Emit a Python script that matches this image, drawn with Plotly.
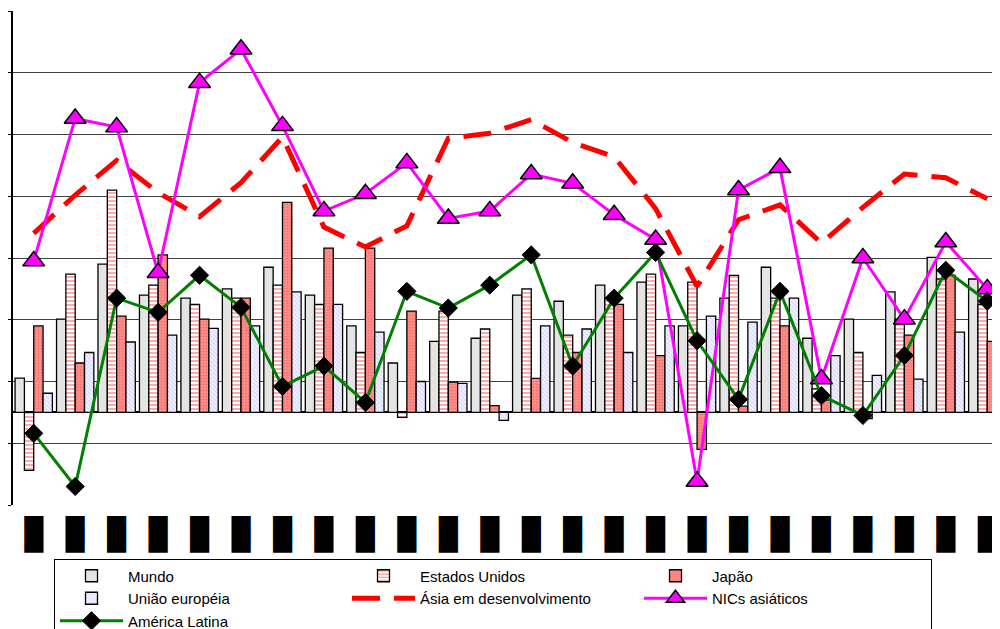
import plotly.graph_objects as go

labels = ["█"] * 24
positions = list(range(24))

mundo = [2.77, 7.55, 12.0, 9.5, 9.25, 10.0, 11.75, 9.5, 7.0, 4.0, 5.75, 6.0,
         9.5, 9.0, 10.3, 10.55, 7.0, 9.25, 11.75, 6.0, 7.55, 9.75, 12.55, 10.8]
estados_unidos = [-4.7, 11.2, 18.0, 10.3, 8.75, 9.25, 10.3, 8.75, 4.85, -0.4, 8.2, 6.75,
                  10.0, 6.25, 9.25, 11.2, 10.55, 11.1, 9.25, 1.9, 4.85, 7.55, 10.8, 8.75]
japao = [7.0, 4.0, 7.8, 12.75, 7.55, 9.25, 17.0, 13.3, 13.3, 8.2, 2.45, 0.55,
         2.75, 4.85, 8.75, 4.6, -3.0, 0.5, 7.0, 1.0, -0.5, 6.25, 11.1, 5.75]
uniao_europeia = [1.55, 4.85, 5.7, 6.25, 6.8, 7.0, 9.75, 8.75, 6.5, 2.5, 2.35, -0.65,
                  7.0, 6.75, 4.85, 7.0, 7.8, 7.3, 9.25, 4.6, 3.0, 2.7, 6.5, 6.25]
asia_desenv = [14.5, 17.6, 20.4, 17.8, 15.85, 18.6, 22.3, 15.0, 13.4, 15.1, 22.2, 22.6,
               23.7, 21.85, 20.7, 16.5, 10.2, 15.6, 16.8, 13.7, 16.6, 19.3, 19.0, 17.3]
nics = [12.25, 23.8, 23.1, 11.3, 26.7, 29.4, 23.2, 16.3, 17.7, 20.2, 15.7, 16.3,
        19.3, 18.55, 16.0, 14.0, -5.6, 18.0, 19.8, 2.7, 12.5, 7.55, 13.8, 10.0]
america_latina = [-1.7, -6.0, 9.25, 8.1, 11.1, 8.5, 2.1, 3.75, 0.8, 9.8, 8.45, 10.3,
                  12.75, 3.75, 9.25, 12.95, 5.8, 1.05, 9.8, 1.35, -0.25, 4.6, 11.5, 9.0]

outline = dict(color="black", width=1.3)
fig = go.Figure()
fig.add_trace(go.Bar(x=positions, y=mundo, name="Mundo",
                     marker=dict(color="#e4e4e4", line=outline)))
fig.add_trace(go.Bar(x=positions, y=estados_unidos, name="Estados Unidos",
                     marker=dict(color="white", line=outline,
                                 pattern=dict(shape="-", fgcolor="#ff2a2a", bgcolor="white",
                                              size=4, solidity=0.4))))
fig.add_trace(go.Bar(x=positions, y=japao, name="Japão",
                     marker=dict(color="#ff8c88", line=outline,
                                 pattern=dict(shape=".", fgcolor="#e05050", size=3,
                                              solidity=0.25, fillmode="overlay"))))
fig.add_trace(go.Bar(x=positions, y=uniao_europeia, name="União européia",
                     marker=dict(color="#f2f2ff", line=outline,
                                 pattern=dict(shape="\\", fgcolor="#a8a8ee", size=3,
                                              solidity=0.3, fillmode="overlay"))))
fig.add_trace(go.Scatter(x=positions, y=asia_desenv, name="Ásia em desenvolvimento",
                         mode="lines", line=dict(color="#ff0000", width=5, dash="28px,14px")))
fig.add_trace(go.Scatter(x=positions, y=nics, name="NICs asiáticos", mode="lines+markers",
                         line=dict(color="#ff00ff", width=3),
                         marker=dict(symbol="triangle-up", size=19, color="#ff00ff",
                                     line=dict(color="black", width=1.5))))
fig.add_trace(go.Scatter(x=positions, y=america_latina, name="América Latina",
                         mode="lines+markers", line=dict(color="#008000", width=3),
                         marker=dict(symbol="diamond", size=14, color="black",
                                     line=dict(color="black", width=1))))

# the page body adds an 8px offset; margins compensate for it
fig.update_layout(
    width=1000, height=629,
    margin=dict(l=5, r=0, t=3, b=132, autoexpand=False),
    paper_bgcolor="white", plot_bgcolor="white",
    barmode="group", bargap=0.1, bargroupgap=0,
    font=dict(family="Liberation Sans, Arial", size=15, color="black"),
    showlegend=True,
    legend=dict(orientation="h", xref="container", yref="container",
                x=0.046, y=1 - 550.5 / 629, xanchor="left", yanchor="top",
                bordercolor="black", borderwidth=1, bgcolor="white",
                itemwidth=63, entrywidth=214, entrywidthmode="pixels",
                font=dict(family="Liberation Sans, Arial", size=15, color="black"),
                traceorder="normal", tracegroupgap=0),
    xaxis=dict(range=[-0.5, 23.5], tickmode="array", tickvals=positions, ticktext=labels,
               showgrid=False, zeroline=False, showline=False, ticks="",
               ticklabelstandoff=8, automargin=False,
               tickfont=dict(family="DejaVu Sans Mono", size=31, color="black")),
    xaxis2=dict(range=[-0.5, 23.5], overlaying="x", anchor="free", position=0.1875,
                side="bottom", tickmode="array", tickvals=[p + 0.5 for p in positions],
                ticks="outside", ticklen=4, tickcolor="black", showticklabels=False,
                showgrid=False, zeroline=False, showline=False),
    yaxis=dict(range=[-7.5, 32.5], tick0=-7.5, dtick=5, showticklabels=False,
               showgrid=True, gridcolor="#404040", gridwidth=1,
               zeroline=True, zerolinecolor="black", zerolinewidth=1.5,
               showline=True, linecolor="black", linewidth=1.5,
               ticks="outside", ticklen=5, tickcolor="black"),
)
fig.write_html("out.html")
